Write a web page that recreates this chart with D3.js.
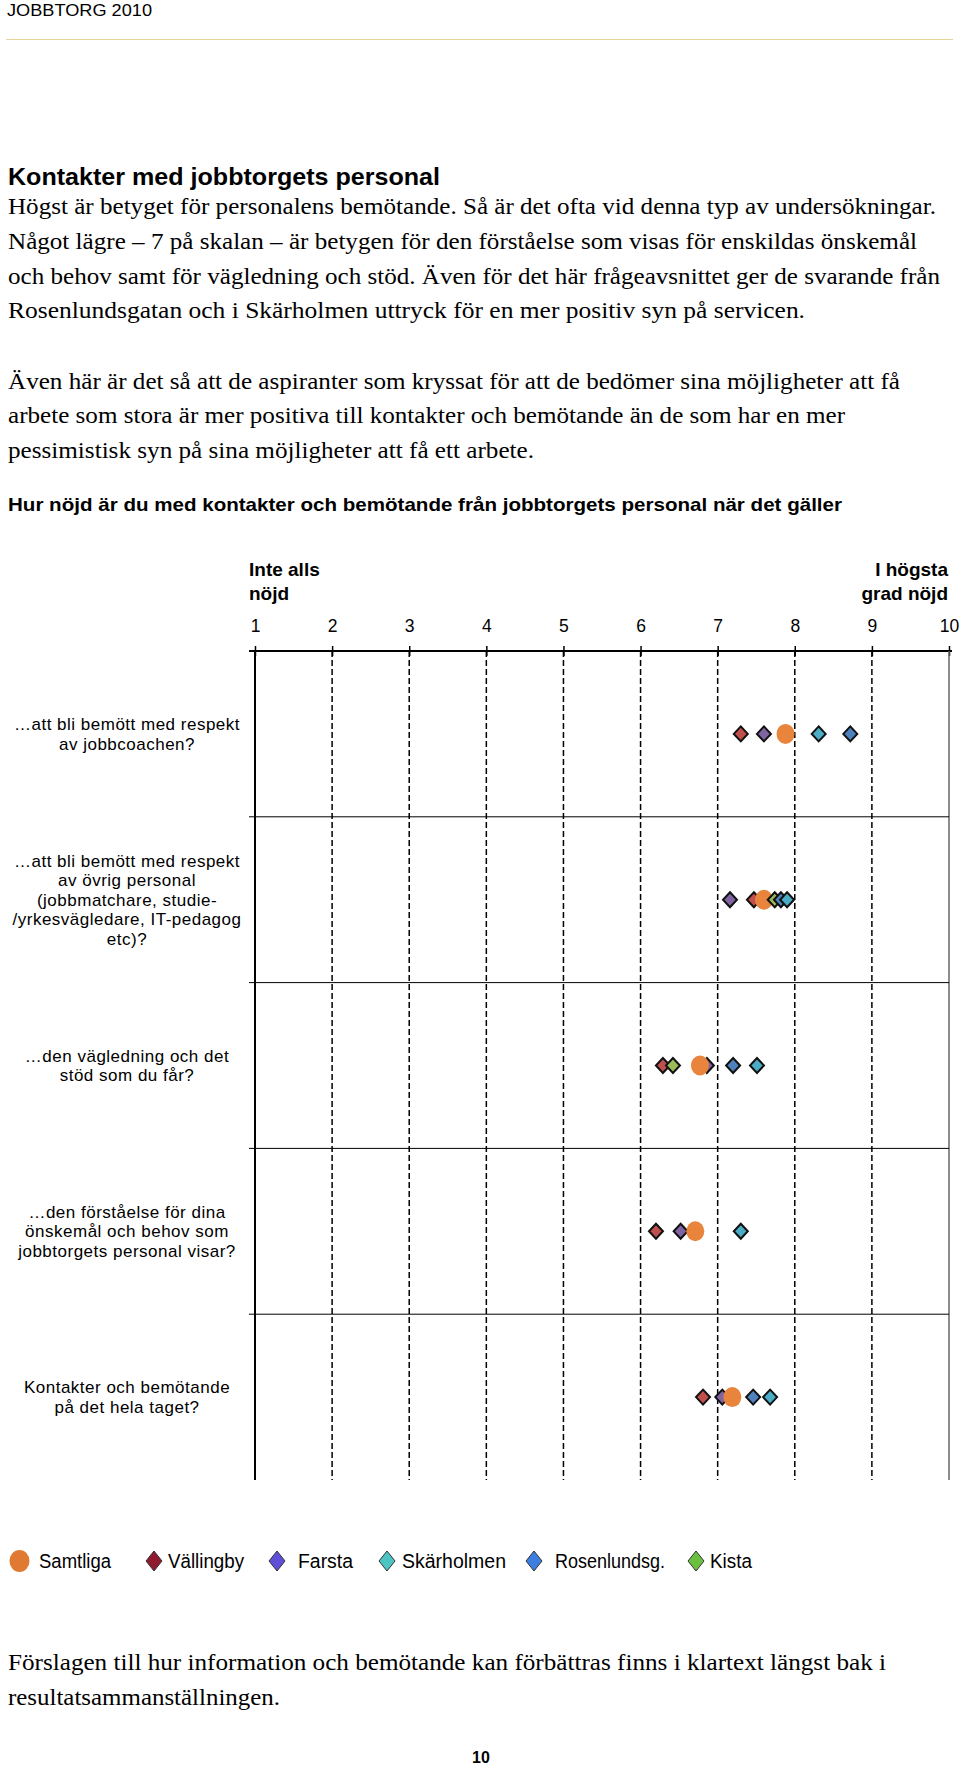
<!DOCTYPE html>
<html><head><meta charset="utf-8">
<script src="https://cdn.jsdelivr.net/npm/d3@7"></script>
<style>html,body{margin:0;padding:0;background:#fff}svg{display:block}</style>
</head><body>
<script>
// ---------- DATA ----------
const categories = [
  "…att bli bemött med respekt\nav jobbcoachen?",
  "…att bli bemött med respekt\nav övrig personal\n(jobbmatchare, studie-\n/yrkesvägledare, IT-pedagog\netc)?",
  "…den vägledning och det\nstöd som du får?",
  "…den förståelse för dina\nönskemål och behov som\njobbtorgets personal visar?",
  "Kontakter och bemötande\npå det hela taget?"
];
const tickValues = [1,2,3,4,5,6,7,8,9,10];
const seriesNames = ["Samtliga","Vällingby","Farsta","Skärholmen","Rosenlundsg.","Kista"];
const samtliga   = [7.88, 7.60, 6.77, 6.71, 7.19];
const vallingby  = [7.30, 7.47, 6.29, 6.20, 6.81];
const farsta     = [7.60, 7.16, 6.86, 6.52, 7.06];
const skarholmen = [8.31, 7.90, 7.51, 7.30, 7.68];
const rosenlund  = [8.72, 7.82, 7.20, null, 7.46];
const kista      = [null, 7.74, 6.42, null, null];
const markerColors = ["#e8843c","#c0504d","#8064a2","#4bacc6","#4f81bd","#9bbb59"];
const legendColors = ["#e07a32","#8e1b2f","#6050d8","#4dc4c4","#3d7fe0","#6cc040"];

const headerText = "JOBBTORG 2010";
const titleText = "Kontakter med jobbtorgets personal";
const para1 = [
  "Högst är betyget för personalens bemötande. Så är det ofta vid denna typ av undersökningar.",
  "Något lägre – 7 på skalan – är betygen för den förståelse som visas för enskildas önskemål",
  "och behov samt för vägledning och stöd. Även för det här frågeavsnittet ger de svarande från",
  "Rosenlundsgatan och i Skärholmen uttryck för en mer positiv syn på servicen."
];
const para2 = [
  "Även här är det så att de aspiranter som kryssat för att de bedömer sina möjligheter att få",
  "arbete som stora är mer positiva till kontakter och bemötande än de som har en mer",
  "pessimistisk syn på sina möjligheter att få ett arbete."
];
const questionText = "Hur nöjd är du med kontakter och bemötande från jobbtorgets personal när det gäller";
const footer = [
  "Förslagen till hur information och bemötande kan förbättras finns i klartext längst bak i",
  "resultatsammanställningen."
];

// ---------- LAYOUT ----------
const W = 960, H = 1768;
const svg = d3.select("body").append("svg").attr("width", W).attr("height", H);
const serif = "'Liberation Serif','Times New Roman',serif";
const sans = "'Liberation Sans',Arial,sans-serif";

svg.append("text").attr("x",7).attr("y",16).attr("font-family",sans).attr("font-size",17)
  .attr("textLength",145).attr("lengthAdjust","spacingAndGlyphs").text(headerText);
svg.append("line").attr("x1",6).attr("x2",953).attr("y1",39.5).attr("y2",39.5)
  .attr("stroke","#e6d49a").attr("stroke-width",1.2);

svg.append("text").attr("x",8).attr("y",185).attr("font-family",sans).attr("font-weight","bold")
  .attr("font-size",24).attr("textLength",432).attr("lengthAdjust","spacingAndGlyphs").text(titleText);

const bodySize = 23.5;
const p1W = [928, 909, 932, 797];
const p1Y = [214, 249, 284, 318];
para1.forEach((t,i)=>svg.append("text").attr("x",8).attr("y",p1Y[i]).attr("font-family",serif)
  .attr("font-size",bodySize).attr("textLength",p1W[i]).attr("lengthAdjust","spacingAndGlyphs").text(t));
const p2W = [892, 837, 526];
const p2Y = [389, 423, 458];
para2.forEach((t,i)=>svg.append("text").attr("x",8).attr("y",p2Y[i]).attr("font-family",serif)
  .attr("font-size",bodySize).attr("textLength",p2W[i]).attr("lengthAdjust","spacingAndGlyphs").text(t));

svg.append("text").attr("x",8).attr("y",511).attr("font-family",sans).attr("font-weight","bold")
  .attr("font-size",18.5).attr("textLength",834).attr("lengthAdjust","spacingAndGlyphs").text(questionText);

// ---------- CHART ----------
const x = d3.scaleLinear().domain([1,10]).range([255,949]);
const y = d3.scaleBand().domain(categories).range([651,1480]).padding(0);

const g = svg.append("g");
const anchorSize = 19;
g.append("text").attr("x",x(1)-6).attr("y",576).attr("font-family",sans).attr("font-weight","bold").attr("font-size",anchorSize).text("Inte alls");
g.append("text").attr("x",x(1)-6).attr("y",600).attr("font-family",sans).attr("font-weight","bold").attr("font-size",anchorSize).text("nöjd");
g.append("text").attr("x",x(10)-1).attr("y",576).attr("text-anchor","end").attr("font-family",sans).attr("font-weight","bold").attr("font-size",anchorSize).text("I högsta");
g.append("text").attr("x",x(10)-1).attr("y",600).attr("text-anchor","end").attr("font-family",sans).attr("font-weight","bold").attr("font-size",anchorSize).text("grad nöjd");

// axis
const axis = d3.axisTop(x).tickValues(tickValues).tickFormat(d3.format("d")).tickSize(5).tickPadding(14).tickSizeOuter(0);
const ag = g.append("g").attr("transform","translate(0,651)").call(axis);
ag.select(".domain").remove();
ag.selectAll(".tick line").attr("y1",5).attr("y2",-5).attr("stroke","#000").attr("stroke-width",1.5);
ag.selectAll(".tick text").attr("font-family",sans).attr("font-size",17.5).attr("fill","#000");
g.append("line").attr("x1",x(1)-6).attr("x2",x(10)+3).attr("y1",651).attr("y2",651).attr("stroke","#000").attr("stroke-width",2);

// grid lines
g.selectAll("line.grid").data(tickValues).join("line").attr("class","grid")
  .attr("x1",d=>x(d)).attr("x2",d=>x(d)).attr("y1",651).attr("y2",1480)
  .attr("stroke",d=>d===10?"#666":"#000")
  .attr("stroke-width",d=>d===1?2:1.5)
  .attr("stroke-dasharray",d=>(d===1||d===10)?null:"6,3");

// row separators
g.selectAll("line.sep").data(categories.slice(1)).join("line").attr("class","sep")
  .attr("x1",x(1)-6).attr("x2",x(10)).attr("y1",d=>y(d)).attr("y2",d=>y(d))
  .attr("stroke","#000").attr("stroke-width",1);

// category labels
categories.forEach(c=>{
  const lines = c.split("\n");
  const cy = y(c) + y.bandwidth()/2;
  const lh = 19.5;
  const t = g.append("text").attr("text-anchor","middle").attr("font-family",sans)
    .attr("font-size",17).attr("letter-spacing",0.5);
  lines.forEach((l,i)=>t.append("tspan").attr("x",127)
    .attr("y", cy - (lines.length-1)*lh/2 + i*lh + 6).text(l));
});

// markers: draw order red, purple, orange, green, blue, teal
const seriesData = [samtliga, vallingby, farsta, skarholmen, rosenlund, kista];
const drawOrder = [1,2,0,5,4,3];
const diamond = "M0,-7.5L7,0L0,7.5L-7,0Z";
drawOrder.forEach(si=>{
  const pts = categories.map((c,i)=>({c, v: seriesData[si][i]})).filter(d=>d.v!=null);
  const sel = g.append("g").selectAll("g").data(pts).join("g")
    .attr("transform",d=>`translate(${x(d.v)},${y(d.c)+y.bandwidth()/2})`);
  if (si===0) {
    sel.append("ellipse").attr("rx",9).attr("ry",10).attr("fill",markerColors[0]);
  } else {
    sel.append("path").attr("d",diamond).attr("fill",markerColors[si]).attr("stroke","#111").attr("stroke-width",2);
  }
});

// legend
const legX = [19.5, 154, 277, 387, 534, 696];
const legTX = [39, 168, 298, 402, 555, 710];
const legW = [72, 76, 55, 104, 110, 42];
const ly = 1561;
seriesNames.forEach((n,i)=>{
  if (i===0) svg.append("ellipse").attr("cx",legX[i]).attr("cy",ly).attr("rx",10).attr("ry",11).attr("fill",legendColors[0]);
  else svg.append("path").attr("transform",`translate(${legX[i]},${ly})`).attr("d","M0,-10L8,0L0,10L-8,0Z")
    .attr("fill",legendColors[i]).attr("stroke","#333").attr("stroke-width",1);
  svg.append("text").attr("x",legTX[i]).attr("y",ly+7).attr("font-family",sans).attr("font-size",20)
    .attr("textLength",legW[i]).attr("lengthAdjust","spacingAndGlyphs").text(n);
});

// footer
const fW = [878, 272];
[1670,1705].forEach((yy,i)=>svg.append("text").attr("x",8).attr("y",yy).attr("font-family",serif)
  .attr("font-size",bodySize).attr("textLength",fW[i]).attr("lengthAdjust","spacingAndGlyphs").text(footer[i]));
svg.append("text").attr("x",481).attr("y",1763).attr("text-anchor","middle").attr("font-family",sans)
  .attr("font-weight","bold").attr("font-size",16).text("10");
</script>
</body></html>
